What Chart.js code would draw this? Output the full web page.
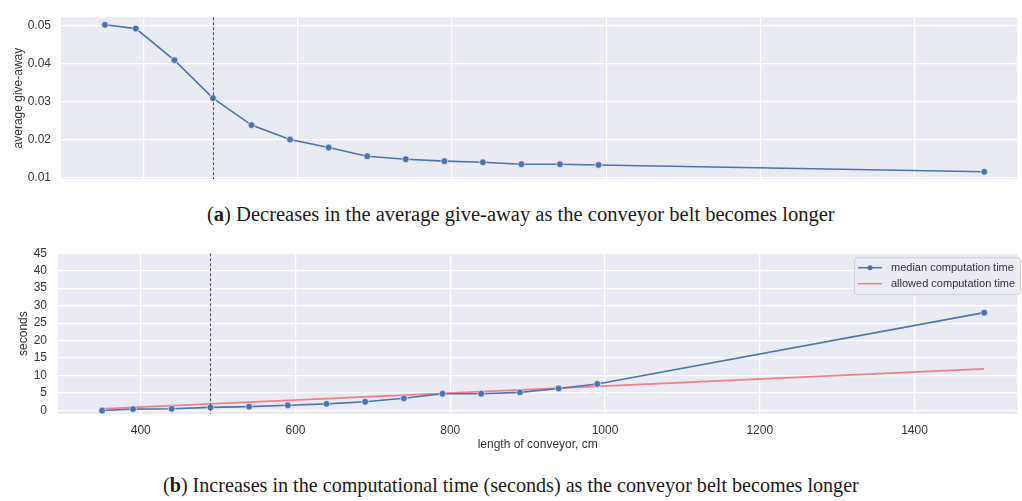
<!DOCTYPE html>
<html>
<head>
<meta charset="utf-8">
<script src="https://cdn.jsdelivr.net/npm/chart.js@4.4.0/dist/chart.umd.min.js"></script>
<style>
  body { margin: 0; background: #fff; width: 1022px; height: 501px; overflow: hidden; position: relative; }
  .panel { position: absolute; left: 0; width: 1022px; }
  .caption { position: absolute; white-space: nowrap; font-family: "Liberation Serif", "DejaVu Serif", serif; color: #1a1a1a; line-height: 1; }
</style>
</head>
<body>
<div class="panel" style="top:0;height:200px"><canvas id="giveaway"></canvas></div>
<div class="caption" id="capA">(<b>a</b>) Decreases in the average give-away as the conveyor belt becomes longer</div>
<div class="panel" style="top:235px;height:225px"><canvas id="timing"></canvas></div>
<div class="caption" id="capB">(<b>b</b>) Increases in the computational time (seconds) as the conveyor belt becomes longer</div>

<script>
// conveyor lengths (cm) used in both panels
const lengths = [350, 390, 440, 490, 540, 590, 640, 690, 740, 790, 840, 890, 940, 990, 1490];
const giveAway = [0.0502, 0.0492, 0.0409, 0.0309, 0.0238, 0.0200, 0.0179, 0.0156, 0.0148, 0.0143, 0.0140, 0.0135, 0.0135, 0.0133, 0.0115];
const medianTime = [0.0, 0.4, 0.5, 0.9, 1.1, 1.5, 1.9, 2.5, 3.5, 4.8, 4.8, 5.2, 6.3, 7.6, 28.0];
const allowedTime = [0.5, 0.9, 1.4, 1.9, 2.4, 2.9, 3.4, 3.9, 4.4, 4.9, 5.4, 5.9, 6.4, 6.9, 11.9];
const lengthTicks = [400, 600, 800, 1000, 1200, 1400];
const giveAwayTicks = [0.01, 0.02, 0.03, 0.04, 0.05];
const secondsTicks = [0, 5, 10, 15, 20, 25, 30, 35, 40, 45];
const chosenLength = 490;

const BLUE = '#4C72B0';
const RED = 'rgba(240, 110, 118, 0.85)';
const TEXT = '#333333';
const FONT = 'Liberation Sans, Arial, sans-serif';

Chart.defaults.font.family = FONT;
Chart.defaults.color = TEXT;

const toPoints = (ys) => lengths.map((x, i) => ({ x: x, y: ys[i] }));

// seaborn-like grey plot background
const darkgrid = {
    id: 'darkgrid',
    beforeDraw(chart) {
        const { ctx, chartArea: a } = chart;
        ctx.save();
        ctx.fillStyle = '#EAEAF2';
        ctx.fillRect(a.left, a.top, a.right - a.left, a.bottom - a.top);
        ctx.restore();
    }
};

// dashed marker at the chosen conveyor length
const chosenLine = {
    id: 'chosenLine',
    afterDatasetsDraw(chart) {
        const { ctx, chartArea: a, scales } = chart;
        const x = Math.round(scales.x.getPixelForValue(chosenLength)) + 0.5;
        ctx.save();
        ctx.strokeStyle = '#555';
        ctx.lineWidth = 1.1;
        ctx.setLineDash([3, 2]);
        ctx.beginPath();
        ctx.moveTo(x, a.top);
        ctx.lineTo(x, a.bottom);
        ctx.stroke();
        ctx.restore();
    }
};

// legend box drawn inside the plot, top right
const innerLegend = {
    id: 'innerLegend',
    afterDraw(chart) {
        const { ctx, chartArea: a } = chart;
        const boxX = 854, boxY = a.top + 4, boxW = 166, boxH = 37;
        ctx.save();
        ctx.fillStyle = 'rgba(234, 234, 242, 0.8)';
        ctx.strokeStyle = '#cfcfd6';
        ctx.lineWidth = 1;
        ctx.beginPath();
        ctx.roundRect(boxX + 0.5, boxY + 0.5, boxW, boxH, 3);
        ctx.fill();
        ctx.stroke();
        ctx.font = '11px ' + FONT;
        ctx.textBaseline = 'middle';
        chart.data.datasets.forEach((ds, i) => {
            const y = boxY + 10.5 + i * 16;
            ctx.strokeStyle = ds.borderColor;
            ctx.lineWidth = 1.5;
            ctx.beginPath();
            ctx.moveTo(boxX + 4, y);
            ctx.lineTo(boxX + 28, y);
            ctx.stroke();
            if (ds.pointRadius > 0) {
                ctx.fillStyle = ds.pointBackgroundColor;
                ctx.beginPath();
                ctx.arc(boxX + 16, y, 2.5, 0, Math.PI * 2);
                ctx.fill();
            }
            ctx.fillStyle = TEXT;
            ctx.fillText(ds.label, boxX + 37, y);
        });
        ctx.restore();
    }
};

const gridOpts = { color: '#ffffff', lineWidth: 1.2, drawTicks: false };

new Chart(document.getElementById('giveaway'), {
    type: 'line',
    data: {
        datasets: [{
            label: 'average give-away',
            data: toPoints(giveAway),
            borderColor: BLUE,
            borderWidth: 1.6,
            pointRadius: 3.4,
            pointBackgroundColor: BLUE,
            pointBorderColor: '#ffffff',
            pointBorderWidth: 0.6
        }]
    },
    options: {
        animation: false,
        responsive: true,
        maintainAspectRatio: false,
        devicePixelRatio: 1,
        layout: { padding: { top: 13, right: 0, left: 0, bottom: 0 } },
        plugins: { legend: { display: false }, tooltip: { enabled: false } },
        scales: {
            x: {
                type: 'linear', min: 293, max: 1533,
                grid: gridOpts, border: { display: false },
                ticks: { display: false },
                afterBuildTicks: (s) => { s.ticks = lengthTicks.map(v => ({ value: v })); },
                afterFit: (s) => { s.height = 21; }
            },
            y: {
                min: 0.0096, max: 0.0522,
                grid: gridOpts, border: { display: false },
                ticks: { padding: 10, font: { size: 12 }, callback: (v) => v.toFixed(2) },
                afterBuildTicks: (s) => { s.ticks = giveAwayTicks.map(v => ({ value: v })); },
                afterFit: (s) => { s.width = 61; },
                title: { display: true, text: 'average give-away', font: { size: 12 }, padding: { top: 11.5, bottom: 0 } }
            }
        }
    },
    plugins: [darkgrid, chosenLine]
});

new Chart(document.getElementById('timing'), {
    type: 'line',
    data: {
        datasets: [{
            label: 'median computation time',
            data: toPoints(medianTime),
            borderColor: BLUE,
            borderWidth: 1.6,
            pointRadius: 3.4,
            pointBackgroundColor: BLUE,
            pointBorderColor: '#ffffff',
            pointBorderWidth: 0.6
        }, {
            label: 'allowed computation time',
            data: toPoints(allowedTime),
            borderColor: RED,
            borderWidth: 1.6,
            pointRadius: 0
        }]
    },
    options: {
        animation: false,
        responsive: true,
        maintainAspectRatio: false,
        devicePixelRatio: 1,
        layout: { padding: { top: 14, right: 0, left: 0, bottom: 0 } },
        plugins: { legend: { display: false }, tooltip: { enabled: false } },
        scales: {
            x: {
                type: 'linear', min: 293, max: 1533,
                grid: gridOpts, border: { display: false },
                ticks: { padding: 9, font: { size: 12 }, callback: (v) => String(v) },
                afterBuildTicks: (s) => { s.ticks = lengthTicks.map(v => ({ value: v })); },
                afterFit: (s) => { s.height = 46; },
                title: { display: true, text: 'length of conveyor, cm', font: { size: 12 }, padding: { top: 0, bottom: 7.8 } }
            },
            y: {
                min: -1, max: 45,
                grid: gridOpts, border: { display: false },
                ticks: { padding: 11, font: { size: 12 } },
                afterBuildTicks: (s) => { s.ticks = secondsTicks.map(v => ({ value: v })); },
                afterFit: (s) => { s.width = 58; },
                title: { display: true, text: 'seconds', font: { size: 12 }, padding: { top: 16.5, bottom: 0 } }
            }
        }
    },
    plugins: [darkgrid, chosenLine, innerLegend]
});

// fit the captions to the width and baseline they have in the figure
function placeCaption(id, left, right, baseline) {
    const el = document.getElementById(id);
    el.style.fontSize = '100px';
    const w = el.getBoundingClientRect().width;
    const size = 100 * (right - left) / w;
    el.style.fontSize = size + 'px';
    el.style.left = left + 'px';
    el.style.top = (baseline - 0.8375 * size) + 'px';
}
placeCaption('capA', 207, 835, 221.5);
placeCaption('capB', 163, 859, 491.5);
</script>
</body>
</html>
